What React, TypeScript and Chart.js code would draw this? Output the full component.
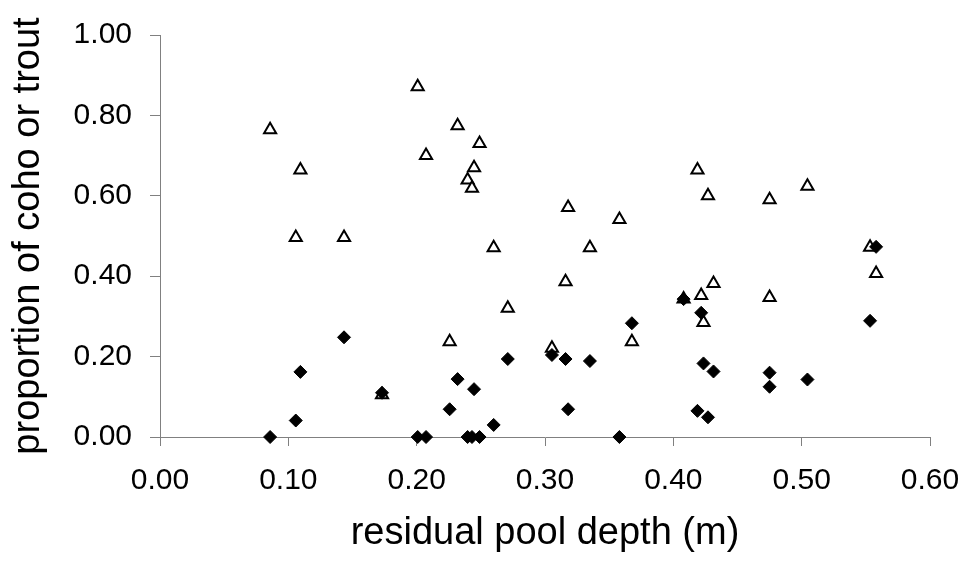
import React, { useEffect, useRef } from "react";
import { Chart, registerables } from "chart.js";

Chart.register(...registerables);

// residual pool depth (m) for each pool
const poolDepth = [
  0.0858, 0.1058, 0.1094, 0.1434, 0.173, 0.2008, 0.2073, 0.2257, 0.2319, 0.2397,
  0.2431, 0.2447, 0.249, 0.26, 0.271, 0.3054, 0.316, 0.318, 0.335, 0.358,
  0.3677, 0.408, 0.4188, 0.4217, 0.4235, 0.427, 0.4313, 0.475, 0.475, 0.5045,
  0.5533, 0.558,
];

// open triangles
const triangleValues = [
  0.764, 0.496, 0.664, 0.496, 0.105, 0.871, 0.7, 0.237, 0.774, 0.639,
  0.619, 0.67, 0.73, 0.471, 0.32, 0.221, 0.386, 0.571, 0.471, 0.541,
  0.237, 0.343, 0.664, 0.352, 0.285, 0.6, 0.382, 0.347, 0.59, 0.624,
  0.472, 0.407,
];

// filled diamonds
const diamondValues = [
  0.0, 0.041, 0.162, 0.248, 0.11, 0.0, 0.0, 0.069, 0.144, 0.0,
  0.0, 0.119, 0.0, 0.03, 0.194, 0.204, 0.194, 0.069, 0.189, 0.0,
  0.283, 0.343, 0.065, 0.309, 0.183, 0.049, 0.163, 0.16, 0.125, 0.143,
  0.289, 0.473,
];

const xTickValues = [0, 0.1, 0.2, 0.3, 0.4, 0.5, 0.6];
const yTickValues = [0, 0.2, 0.4, 0.6, 0.8, 1.0];

const xTitle = "residual pool depth (m)";
const yTitle = "proportion of coho or trout";

const FONT = "'Liberation Sans', Arial, Helvetica, sans-serif";

export default function App() {
  const canvasRef = useRef<HTMLCanvasElement | null>(null);

  useEffect(() => {
    document.body.style.margin = "0";
    const canvas = canvasRef.current;
    if (!canvas) return;

    const diamonds = poolDepth.map((x, i) => ({ x, y: diamondValues[i] }));
    const triangles = poolDepth.map((x, i) => ({ x, y: triangleValues[i] }));

    const chart = new Chart(canvas, {
      type: "scatter",
      data: {
        datasets: [
          {
            label: "diamonds",
            data: diamonds,
            pointStyle: "rectRot",
            pointRadius: 6.5,
            pointBorderWidth: 1,
            pointBackgroundColor: "#000000",
            pointBorderColor: "#000000",
            clip: false as any,
          },
          {
            label: "triangles",
            data: triangles,
            pointStyle: "triangle",
            pointRadius: 7,
            pointBorderWidth: 2,
            pointBackgroundColor: "#ffffff",
            pointBorderColor: "#000000",
            clip: false as any,
          },
        ],
      },
      options: {
        animation: false,
        responsive: false,
        maintainAspectRatio: false,
        events: [],
        layout: { padding: { left: 0, right: 38, top: 35, bottom: 0 } },
        plugins: {
          legend: { display: false },
          tooltip: { enabled: false },
        },
        scales: {
          x: {
            type: "linear",
            position: "bottom",
            min: 0,
            max: 0.6,
            afterBuildTicks: (scale: any) => {
              scale.ticks = xTickValues.map((v) => ({ value: v }));
            },
            afterFit: (scale: any) => {
              scale.height = 126;
              scale.paddingLeft = 0;
              scale.paddingRight = 0;
            },
            ticks: {
              callback: (v: any) => Number(v).toFixed(2),
              font: { family: FONT, size: 30 },
              color: "#000000",
              padding: 17,
              maxRotation: 0,
            },
            grid: {
              drawOnChartArea: false,
              drawTicks: true,
              tickLength: 9,
              color: "#808080",
            },
            border: { color: "#808080", width: 1 },
            title: {
              display: true,
              text: xTitle,
              font: { family: FONT, size: 38 },
              color: "#000000",
              padding: { top: 0, bottom: 7 },
            },
          },
          y: {
            type: "linear",
            min: 0,
            max: 1,
            afterBuildTicks: (scale: any) => {
              scale.ticks = yTickValues.map((v) => ({ value: v }));
            },
            afterFit: (scale: any) => {
              scale.width = 160;
              scale.paddingTop = 0;
              scale.paddingBottom = 0;
            },
            ticks: {
              callback: (v: any) => Number(v).toFixed(2),
              font: { family: FONT, size: 30 },
              color: "#000000",
              padding: 18,
            },
            grid: {
              drawOnChartArea: false,
              drawTicks: true,
              tickLength: 10,
              color: "#808080",
            },
            border: { color: "#808080", width: 1 },
            title: {
              display: true,
              text: yTitle,
              font: { family: FONT, size: 38 },
              color: "#000000",
              padding: { top: 6, bottom: 0 },
            },
          },
        },
      },
    });

    return () => {
      chart.destroy();
    };
  }, []);

  return (
    <div style={{ position: "absolute", left: 0, top: 0, width: 968, height: 563, background: "#ffffff" }}>
      <canvas ref={canvasRef} width={968} height={563} style={{ width: 968, height: 563, display: "block" }} />
    </div>
  );
}
